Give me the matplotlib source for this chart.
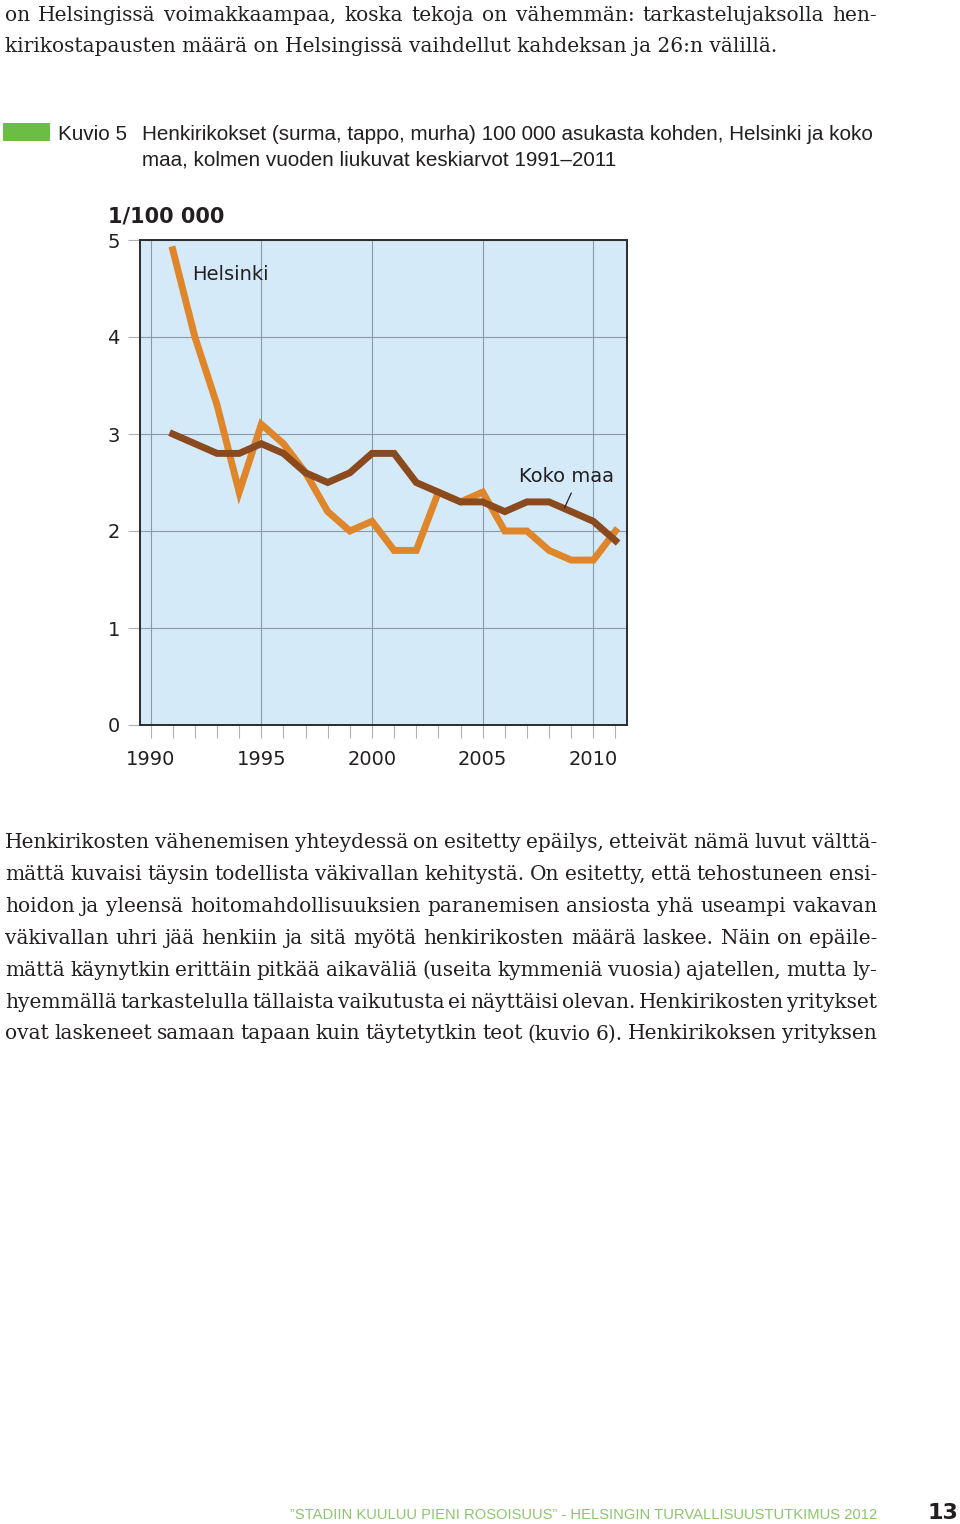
import matplotlib
matplotlib.use("Agg")
import matplotlib.pyplot as plt
from matplotlib.patches import Rectangle

# Data
years = list(range(1991, 2012))
helsinki = [4.9, 4.0, 3.3, 2.4, 3.1, 2.9, 2.6, 2.2, 2.0, 2.1, 1.8,
            1.8, 2.4, 2.3, 2.4, 2.0, 2.0, 1.8, 1.7, 1.7, 2.0]
koko_maa = [3.0, 2.9, 2.8, 2.8, 2.9, 2.8, 2.6, 2.5, 2.6, 2.8, 2.8,
            2.5, 2.4, 2.3, 2.3, 2.2, 2.3, 2.3, 2.2, 2.1, 1.9]
year_ticks = [1990, 1995, 2000, 2005, 2010]
y_ticks = [0, 1, 2, 3, 4, 5]

top_lines = [
    "on Helsingissä voimakkaampaa, koska tekoja on vähemmän: tarkastelujaksolla hen-",
    "kirikostapausten määrä on Helsingissä vaihdellut kahdeksan ja 26:n välillä.",
]
body_lines = [
    "Henkirikosten vähenemisen yhteydessä on esitetty epäilys, etteivät nämä luvut välttä-",
    "mättä kuvaisi täysin todellista väkivallan kehitystä. On esitetty, että tehostuneen ensi-",
    "hoidon ja yleensä hoitomahdollisuuksien paranemisen ansiosta yhä useampi vakavan",
    "väkivallan uhri jää henkiin ja sitä myötä henkirikosten määrä laskee. Näin on epäile-",
    "mättä käynytkin erittäin pitkää aikaväliä (useita kymmeniä vuosia) ajatellen, mutta ly-",
    "hyemmällä tarkastelulla tällaista vaikutusta ei näyttäisi olevan. Henkirikosten yritykset",
    "ovat laskeneet samaan tapaan kuin täytetytkin teot (kuvio 6). Henkirikoksen yrityksen",
]
caption_lines = [
    "Henkirikokset (surma, tappo, murha) 100 000 asukasta kohden, Helsinki ja koko",
    "maa, kolmen vuoden liukuvat keskiarvot 1991–2011",
]
footer = "”STADIIN KUULUU PIENI ROSOISUUS” - HELSINGIN TURVALLISUUSTUTKIMUS 2012"

W, H = 960, 1524
fig = plt.figure(figsize=(W / 100, H / 100), dpi=100)
renderer = fig.canvas.get_renderer()

serif = dict(family="DejaVu Serif", fontsize=14.5, color="#231f20", va="baseline")
narrow = dict(family="Liberation Sans", fontstretch="condensed", va="baseline")


def put_line(y, text, x0=5, x1=877, justify=True, **kw):
    if not justify:
        fig.text(x0 / W, 1 - y / H, text, **kw)
        return
    words = text.split(" ")
    arts = [fig.text(0, 1 - y / H, w, **kw) for w in words]
    widths = [a.get_window_extent(renderer).width for a in arts]
    gap = (x1 - x0 - sum(widths)) / (len(words) - 1)
    x = x0
    for a, w in zip(arts, widths):
        a.set_x(x / W)
        x += w + gap


def fit_text(x, y, text, width, size, **kw):
    t = fig.text(x / W, 1 - y / H, text, fontsize=size, **kw)
    w = t.get_window_extent(renderer).width
    t.set_fontsize(size * width / w)
    return t


put_line(21, top_lines[0], **serif)
put_line(52, top_lines[1], justify=False, **serif)
for i, line in enumerate(body_lines):
    put_line(848 + i * 31.9, line, **serif)

# Figure caption
fig.add_artist(Rectangle((3 / W, 1 - 141 / H), 47 / W, 18 / H,
                         transform=fig.transFigure, color="#6cbd45", lw=0))
cap = fit_text(142, 140, caption_lines[0], 733, 16, color="#231f20", **narrow)
cap_size = cap.get_fontsize()
fig.text(58 / W, 1 - 140 / H, "Kuvio 5", fontsize=cap_size, color="#231f20", **narrow)
fig.text(142 / W, 1 - 165 / H, caption_lines[1], fontsize=cap_size,
         color="#231f20", **narrow)

# Chart
ax = fig.add_axes([140 / W, 1 - 725 / H, 487 / W, 485 / H])
ax.set_facecolor("#d5eaf8")
ax.plot(years, helsinki, color="#e0862a", lw=5, solid_joinstyle="miter", zorder=3)
ax.plot(years, koko_maa, color="#8b4a1e", lw=5, solid_joinstyle="miter", zorder=4)

ax.set_xlim(1989.52, 2011.52)
ax.set_ylim(0, 5)
ax.set_yticks(y_ticks)
ax.set_xticks(year_ticks)
ax.set_xticks(years[:-1] + [2011, 1990], minor=True)
ax.grid(True, color="#8a9aa8", lw=0.8)
ax.set_axisbelow(True)
ax.tick_params(axis="both", which="both", length=9, width=0.8, color="#b0b0b0",
               labelsize=14, labelcolor="#231f20")
ax.tick_params(axis="x", pad=9)
ax.tick_params(axis="y", pad=5.5)
for s in ax.spines.values():
    s.set_color("#2b2b2b")
    s.set_linewidth(1.4)

ax.text(1991.87, 4.64, "Helsinki", fontsize=14, color="#231f20", va="center")
ax.text(2006.66, 2.56, "Koko maa", fontsize=14, color="#231f20", va="center")
ax.plot([2009.0, 2008.7], [2.39, 2.24], color="#231f20", lw=0.9, zorder=5)

fig.text(108 / W, 1 - 222 / H, "1/100 000", fontsize=15, fontweight="bold",
         color="#231f20", va="baseline")

# Footer
fit_text(290, 1519, footer, 587, 14, color="#8cc66c", **narrow)
fig.text(958 / W, 1 - 1519 / H, "13", fontsize=16, fontweight="bold",
         color="#231f20", ha="right", va="baseline")

fig.savefig("out.png", dpi=100)
